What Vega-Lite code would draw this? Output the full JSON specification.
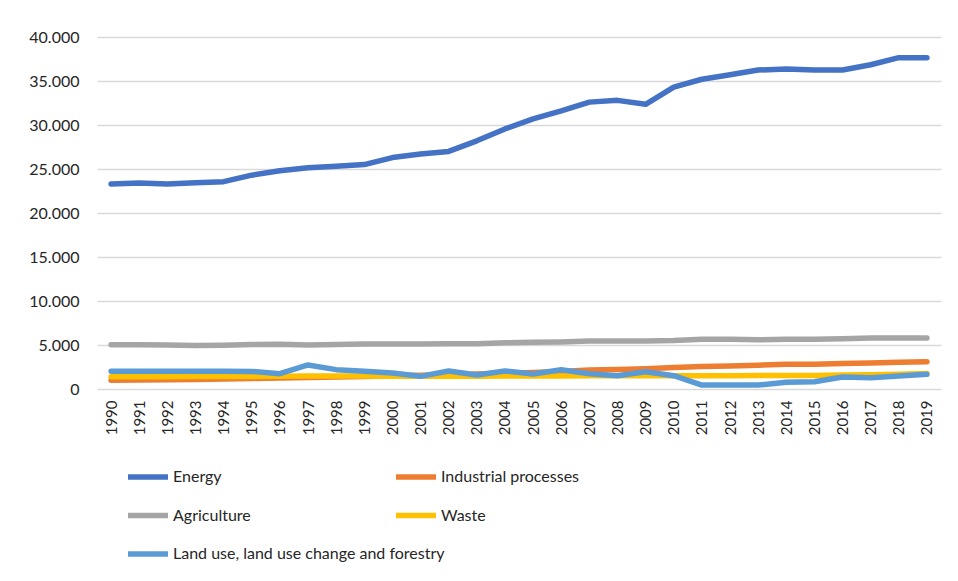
{
  "$schema": "https://vega.github.io/schema/vega-lite/v6.json",
  "width": 844,
  "height": 352,
  "autosize": {"type": "none"},
  "padding": {"left": 97, "top": 37, "right": 17, "bottom": 192},
  "background": "white",
  "config": {
    "view": {"stroke": null},
    "font": "Lato",
    "axis": {"labelFont": "Lato", "labelColor": "#262626"},
    "legend": {"labelFont": "Lato", "labelColor": "#262626"}
  },
  "data": {
    "values": [
      {"year": "1990", "sector": "Energy", "value": 23300},
      {"year": "1991", "sector": "Energy", "value": 23400},
      {"year": "1992", "sector": "Energy", "value": 23300},
      {"year": "1993", "sector": "Energy", "value": 23450},
      {"year": "1994", "sector": "Energy", "value": 23560},
      {"year": "1995", "sector": "Energy", "value": 24300},
      {"year": "1996", "sector": "Energy", "value": 24800},
      {"year": "1997", "sector": "Energy", "value": 25150},
      {"year": "1998", "sector": "Energy", "value": 25300},
      {"year": "1999", "sector": "Energy", "value": 25500},
      {"year": "2000", "sector": "Energy", "value": 26300},
      {"year": "2001", "sector": "Energy", "value": 26700},
      {"year": "2002", "sector": "Energy", "value": 27000},
      {"year": "2003", "sector": "Energy", "value": 28200},
      {"year": "2004", "sector": "Energy", "value": 29550},
      {"year": "2005", "sector": "Energy", "value": 30700},
      {"year": "2006", "sector": "Energy", "value": 31600},
      {"year": "2007", "sector": "Energy", "value": 32600},
      {"year": "2008", "sector": "Energy", "value": 32800},
      {"year": "2009", "sector": "Energy", "value": 32350},
      {"year": "2010", "sector": "Energy", "value": 34300},
      {"year": "2011", "sector": "Energy", "value": 35200},
      {"year": "2012", "sector": "Energy", "value": 35700},
      {"year": "2013", "sector": "Energy", "value": 36250},
      {"year": "2014", "sector": "Energy", "value": 36350},
      {"year": "2015", "sector": "Energy", "value": 36250},
      {"year": "2016", "sector": "Energy", "value": 36250},
      {"year": "2017", "sector": "Energy", "value": 36850},
      {"year": "2018", "sector": "Energy", "value": 37650},
      {"year": "2019", "sector": "Energy", "value": 37650},
      {"year": "1990", "sector": "Industrial processes", "value": 1000},
      {"year": "1991", "sector": "Industrial processes", "value": 1020},
      {"year": "1992", "sector": "Industrial processes", "value": 1050},
      {"year": "1993", "sector": "Industrial processes", "value": 1080},
      {"year": "1994", "sector": "Industrial processes", "value": 1130},
      {"year": "1995", "sector": "Industrial processes", "value": 1200},
      {"year": "1996", "sector": "Industrial processes", "value": 1250},
      {"year": "1997", "sector": "Industrial processes", "value": 1300},
      {"year": "1998", "sector": "Industrial processes", "value": 1350},
      {"year": "1999", "sector": "Industrial processes", "value": 1420},
      {"year": "2000", "sector": "Industrial processes", "value": 1500},
      {"year": "2001", "sector": "Industrial processes", "value": 1550},
      {"year": "2002", "sector": "Industrial processes", "value": 1620},
      {"year": "2003", "sector": "Industrial processes", "value": 1700},
      {"year": "2004", "sector": "Industrial processes", "value": 1780},
      {"year": "2005", "sector": "Industrial processes", "value": 1870},
      {"year": "2006", "sector": "Industrial processes", "value": 2000},
      {"year": "2007", "sector": "Industrial processes", "value": 2150},
      {"year": "2008", "sector": "Industrial processes", "value": 2220},
      {"year": "2009", "sector": "Industrial processes", "value": 2300},
      {"year": "2010", "sector": "Industrial processes", "value": 2450},
      {"year": "2011", "sector": "Industrial processes", "value": 2550},
      {"year": "2012", "sector": "Industrial processes", "value": 2620},
      {"year": "2013", "sector": "Industrial processes", "value": 2700},
      {"year": "2014", "sector": "Industrial processes", "value": 2800},
      {"year": "2015", "sector": "Industrial processes", "value": 2800},
      {"year": "2016", "sector": "Industrial processes", "value": 2900},
      {"year": "2017", "sector": "Industrial processes", "value": 2950},
      {"year": "2018", "sector": "Industrial processes", "value": 3050},
      {"year": "2019", "sector": "Industrial processes", "value": 3100},
      {"year": "1990", "sector": "Agriculture", "value": 5030},
      {"year": "1991", "sector": "Agriculture", "value": 5020},
      {"year": "1992", "sector": "Agriculture", "value": 4990},
      {"year": "1993", "sector": "Agriculture", "value": 4950},
      {"year": "1994", "sector": "Agriculture", "value": 4980},
      {"year": "1995", "sector": "Agriculture", "value": 5050},
      {"year": "1996", "sector": "Agriculture", "value": 5080},
      {"year": "1997", "sector": "Agriculture", "value": 5000},
      {"year": "1998", "sector": "Agriculture", "value": 5050},
      {"year": "1999", "sector": "Agriculture", "value": 5100},
      {"year": "2000", "sector": "Agriculture", "value": 5100},
      {"year": "2001", "sector": "Agriculture", "value": 5100},
      {"year": "2002", "sector": "Agriculture", "value": 5150},
      {"year": "2003", "sector": "Agriculture", "value": 5150},
      {"year": "2004", "sector": "Agriculture", "value": 5250},
      {"year": "2005", "sector": "Agriculture", "value": 5300},
      {"year": "2006", "sector": "Agriculture", "value": 5350},
      {"year": "2007", "sector": "Agriculture", "value": 5450},
      {"year": "2008", "sector": "Agriculture", "value": 5450},
      {"year": "2009", "sector": "Agriculture", "value": 5450},
      {"year": "2010", "sector": "Agriculture", "value": 5500},
      {"year": "2011", "sector": "Agriculture", "value": 5650},
      {"year": "2012", "sector": "Agriculture", "value": 5650},
      {"year": "2013", "sector": "Agriculture", "value": 5600},
      {"year": "2014", "sector": "Agriculture", "value": 5650},
      {"year": "2015", "sector": "Agriculture", "value": 5650},
      {"year": "2016", "sector": "Agriculture", "value": 5700},
      {"year": "2017", "sector": "Agriculture", "value": 5800},
      {"year": "2018", "sector": "Agriculture", "value": 5800},
      {"year": "2019", "sector": "Agriculture", "value": 5800},
      {"year": "1990", "sector": "Waste", "value": 1380},
      {"year": "1991", "sector": "Waste", "value": 1390},
      {"year": "1992", "sector": "Waste", "value": 1400},
      {"year": "1993", "sector": "Waste", "value": 1410},
      {"year": "1994", "sector": "Waste", "value": 1420},
      {"year": "1995", "sector": "Waste", "value": 1430},
      {"year": "1996", "sector": "Waste", "value": 1450},
      {"year": "1997", "sector": "Waste", "value": 1480},
      {"year": "1998", "sector": "Waste", "value": 1480},
      {"year": "1999", "sector": "Waste", "value": 1470},
      {"year": "2000", "sector": "Waste", "value": 1450},
      {"year": "2001", "sector": "Waste", "value": 1440},
      {"year": "2002", "sector": "Waste", "value": 1450},
      {"year": "2003", "sector": "Waste", "value": 1460},
      {"year": "2004", "sector": "Waste", "value": 1470},
      {"year": "2005", "sector": "Waste", "value": 1480},
      {"year": "2006", "sector": "Waste", "value": 1490},
      {"year": "2007", "sector": "Waste", "value": 1500},
      {"year": "2008", "sector": "Waste", "value": 1500},
      {"year": "2009", "sector": "Waste", "value": 1510},
      {"year": "2010", "sector": "Waste", "value": 1510},
      {"year": "2011", "sector": "Waste", "value": 1510},
      {"year": "2012", "sector": "Waste", "value": 1510},
      {"year": "2013", "sector": "Waste", "value": 1520},
      {"year": "2014", "sector": "Waste", "value": 1530},
      {"year": "2015", "sector": "Waste", "value": 1540},
      {"year": "2016", "sector": "Waste", "value": 1580},
      {"year": "2017", "sector": "Waste", "value": 1620},
      {"year": "2018", "sector": "Waste", "value": 1680},
      {"year": "2019", "sector": "Waste", "value": 1750},
      {"year": "1990", "sector": "Land use, land use change and forestry", "value": 2010},
      {"year": "1991", "sector": "Land use, land use change and forestry", "value": 2010},
      {"year": "1992", "sector": "Land use, land use change and forestry", "value": 2010},
      {"year": "1993", "sector": "Land use, land use change and forestry", "value": 2010},
      {"year": "1994", "sector": "Land use, land use change and forestry", "value": 2010},
      {"year": "1995", "sector": "Land use, land use change and forestry", "value": 2000},
      {"year": "1996", "sector": "Land use, land use change and forestry", "value": 1740},
      {"year": "1997", "sector": "Land use, land use change and forestry", "value": 2730},
      {"year": "1998", "sector": "Land use, land use change and forestry", "value": 2200},
      {"year": "1999", "sector": "Land use, land use change and forestry", "value": 2010},
      {"year": "2000", "sector": "Land use, land use change and forestry", "value": 1820},
      {"year": "2001", "sector": "Land use, land use change and forestry", "value": 1440},
      {"year": "2002", "sector": "Land use, land use change and forestry", "value": 2050},
      {"year": "2003", "sector": "Land use, land use change and forestry", "value": 1590},
      {"year": "2004", "sector": "Land use, land use change and forestry", "value": 2050},
      {"year": "2005", "sector": "Land use, land use change and forestry", "value": 1700},
      {"year": "2006", "sector": "Land use, land use change and forestry", "value": 2190},
      {"year": "2007", "sector": "Land use, land use change and forestry", "value": 1740},
      {"year": "2008", "sector": "Land use, land use change and forestry", "value": 1510},
      {"year": "2009", "sector": "Land use, land use change and forestry", "value": 1970},
      {"year": "2010", "sector": "Land use, land use change and forestry", "value": 1510},
      {"year": "2011", "sector": "Land use, land use change and forestry", "value": 450},
      {"year": "2012", "sector": "Land use, land use change and forestry", "value": 450},
      {"year": "2013", "sector": "Land use, land use change and forestry", "value": 450},
      {"year": "2014", "sector": "Land use, land use change and forestry", "value": 760},
      {"year": "2015", "sector": "Land use, land use change and forestry", "value": 830},
      {"year": "2016", "sector": "Land use, land use change and forestry", "value": 1360},
      {"year": "2017", "sector": "Land use, land use change and forestry", "value": 1290},
      {"year": "2018", "sector": "Land use, land use change and forestry", "value": 1480},
      {"year": "2019", "sector": "Land use, land use change and forestry", "value": 1670}
    ]
  },
  "encoding": {
    "x": {
      "field": "year",
      "type": "ordinal",
      "scale": {"type": "point", "padding": 0.5},
      "axis": {
        "title": null,
        "labelAngle": 270,
        "labelAlign": "right",
        "labelBaseline": "middle",
        "labelFontSize": 15,
        "labelPadding": 11,
        "ticks": false,
        "domain": false,
        "grid": false
      }
    },
    "y": {
      "field": "value",
      "type": "quantitative",
      "scale": {"domain": [0, 40000], "nice": false},
      "axis": {
        "title": null,
        "values": [0, 5000, 10000, 15000, 20000, 25000, 30000, 35000, 40000],
        "labelExpr": "replace(format(datum.value, ',.0f'), ',', '.')",
        "labelFontSize": 16,
        "labelPadding": 18,
        "ticks": false,
        "domain": false,
        "grid": true,
        "gridColor": "#D9D9D9",
        "gridWidth": 1.3
      }
    }
  },
  "layer": [
    {
      "transform": [{"filter": {"field": "sector", "oneOf": ["Industrial processes", "Waste"]}}],
      "mark": {"type": "line", "strokeWidth": 5.5, "strokeCap": "round", "strokeJoin": "round"},
      "encoding": {
        "color": {
          "field": "sector",
          "type": "nominal",
          "sort": null,
          "scale": {
            "domain": ["Industrial processes", "Waste"],
            "range": ["#ED7D31", "#FFC000"]
          },
          "legend": {
            "title": null,
            "orient": "none",
            "legendX": 296,
            "legendY": 417,
            "direction": "vertical",
            "symbolType": "stroke",
            "symbolSize": 1600,
            "symbolStrokeWidth": 5.5,
            "labelFontSize": 16,
            "labelOffset": 2,
            "rowPadding": 4.5,
            "labelLimit": 400
          }
        }
      }
    },
    {
      "transform": [{"filter": {"field": "sector", "oneOf": ["Energy", "Agriculture", "Land use, land use change and forestry"]}}],
      "mark": {"type": "line", "strokeWidth": 5.5, "strokeCap": "round", "strokeJoin": "round"},
      "encoding": {
        "stroke": {
          "field": "sector",
          "type": "nominal",
          "sort": null,
          "scale": {
            "domain": ["Energy", "Agriculture", "Land use, land use change and forestry"],
            "range": ["#4472C4", "#A5A5A5", "#5B9BD5"]
          },
          "legend": {
            "title": null,
            "orient": "none",
            "legendX": 28,
            "legendY": 417,
            "direction": "vertical",
            "symbolType": "stroke",
            "symbolSize": 1600,
            "symbolStrokeWidth": 5.5,
            "labelFontSize": 16,
            "labelOffset": 2,
            "rowPadding": 4.5,
            "labelLimit": 400
          }
        }
      }
    }
  ]
}
